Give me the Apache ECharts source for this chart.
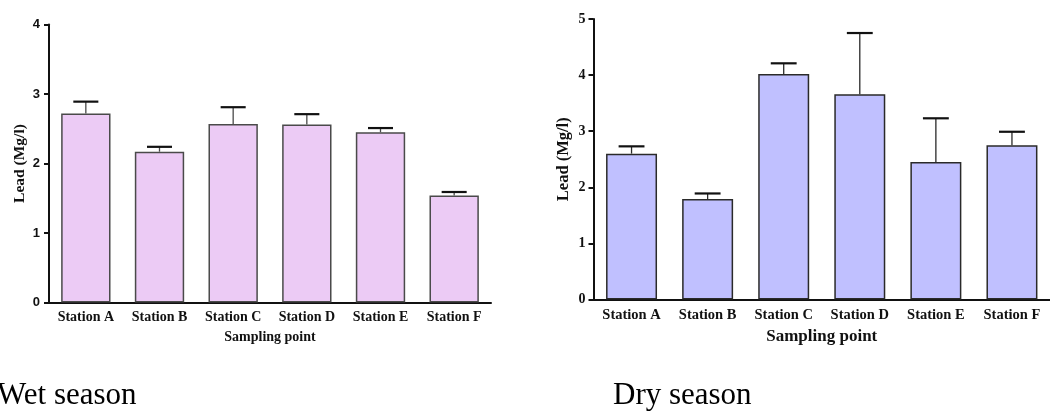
<!DOCTYPE html>
<html>
<head>
<meta charset="utf-8">
<script src="https://cdn.jsdelivr.net/npm/echarts@6/dist/echarts.min.js"></script>
<style>
  html, body { margin: 0; padding: 0; background: #ffffff; }
  #chart { width: 1050px; height: 412px; }
</style>
</head>
<body>
<div id="chart"></div>
<script>
// Lead concentration per sampling station (mean and upper error, Mg/l)
const stations = ['Station A', 'Station B', 'Station C', 'Station D', 'Station E', 'Station F'];
const wetMean = [2.72, 2.17, 2.57, 2.56, 2.45, 1.54];
const wetErr  = [0.17, 0.07, 0.24, 0.15, 0.06, 0.05];
const dryMean = [2.60, 1.79, 4.02, 3.66, 2.45, 2.75];
const dryErr  = [0.13, 0.10, 0.19, 1.09, 0.78, 0.24];
const wetTicks = [0, 1, 2, 3, 4];
const dryTicks = [0, 1, 2, 3, 4, 5];

const serif = '"Liberation Serif", "Times New Roman", serif';
const sans = '"Liberation Sans", Arial, sans-serif';

// Upward-only error bar: stem from the bar top to a capped whisker
function errorBar(stemColor, capColor) {
  return function (params, api) {
    const i = api.value(0);
    const top = api.coord([i, api.value(1)]);
    const end = api.coord([i, api.value(1) + api.value(2)]);
    const half = api.size([1, 0])[0] * 0.17;
    return {
      type: 'group',
      children: [
        { type: 'line', shape: { x1: top[0], y1: top[1], x2: end[0], y2: end[1] },
          style: { stroke: stemColor, lineWidth: 1.3 } },
        { type: 'line', shape: { x1: end[0] - half, y1: end[1], x2: end[0] + half, y2: end[1] },
          style: { stroke: capColor, lineWidth: 2.2 } }
      ]
    };
  };
}

function errData(mean, err) {
  return mean.map((m, i) => [i, m, err[i]]);
}

function xAxisFor(gridIndex, labelSize, nameSize, nameGap) {
  return {
    type: 'category', gridIndex, data: stations,
    boundaryGap: true,
    name: 'Sampling point', nameLocation: 'middle', nameGap,
    nameTextStyle: { fontFamily: serif, fontWeight: 'bold', fontSize: nameSize, color: '#111' },
    axisLine: { lineStyle: { color: '#111', width: 2 } },
    axisTick: { alignWithLabel: true, length: 5, lineStyle: { color: '#111', width: 2 } },
    axisLabel: { margin: 8, fontFamily: serif, fontWeight: 'bold', fontSize: labelSize, color: '#111' }
  };
}

function yAxisFor(gridIndex, ticks, labelFont, labelSize, labelMargin, nameSize, nameGap) {
  return {
    type: 'value', gridIndex,
    min: ticks[0], max: ticks[ticks.length - 1], interval: 1,
    name: 'Lead (Mg/l)', nameLocation: 'middle', nameGap, nameRotate: 90,
    nameTextStyle: { fontFamily: serif, fontWeight: 'bold', fontSize: nameSize, color: '#111' },
    axisLine: { show: true, lineStyle: { color: '#111', width: 2 } },
    axisTick: { show: true, length: 5, lineStyle: { color: '#111', width: 2 } },
    axisLabel: { margin: labelMargin, fontFamily: labelFont, fontWeight: 'bold', fontSize: labelSize, color: '#111' },
    splitLine: { show: false }
  };
}

const chart = echarts.init(document.getElementById('chart'), null, { renderer: 'canvas' });

chart.setOption({
  animation: false,
  backgroundColor: '#ffffff',
  grid: [
    { left: 49, top: 24.5, width: 442, height: 278 },
    { left: 593.5, top: 19, width: 457, height: 280.5 }
  ],
  xAxis: [
    xAxisFor(0, 14, 14, 28),
    xAxisFor(1, 14.5, 17, 29)
  ],
  yAxis: [
    yAxisFor(0, wetTicks, sans, 13, 9, 15.5, 21),
    yAxisFor(1, dryTicks, serif, 14, 8, 16.5, 21)
  ],
  graphic: [
    { type: 'text', left: -3, top: 380,
      style: { text: 'Wet season', fontFamily: serif, fontSize: 31, fill: '#000' } },
    { type: 'text', left: 613, top: 380,
      style: { text: 'Dry season', fontFamily: serif, fontSize: 31, fill: '#000' } }
  ],
  series: [
    {
      type: 'bar', xAxisIndex: 0, yAxisIndex: 0, data: wetMean,
      barCategoryGap: '33%',
      itemStyle: { color: '#ECCBF5', borderColor: '#4a4a4a', borderWidth: 1.5 }
    },
    {
      type: 'custom', xAxisIndex: 0, yAxisIndex: 0,
      data: errData(wetMean, wetErr),
      renderItem: errorBar('#4a4a4a', '#111'), z: 3
    },
    {
      type: 'bar', xAxisIndex: 1, yAxisIndex: 1, data: dryMean,
      barCategoryGap: '33%',
      itemStyle: { color: '#C0C0FF', borderColor: '#2a2a2a', borderWidth: 1.5 }
    },
    {
      type: 'custom', xAxisIndex: 1, yAxisIndex: 1,
      data: errData(dryMean, dryErr),
      renderItem: errorBar('#2a2a2a', '#111'), z: 3
    }
  ]
});
</script>
</body>
</html>
